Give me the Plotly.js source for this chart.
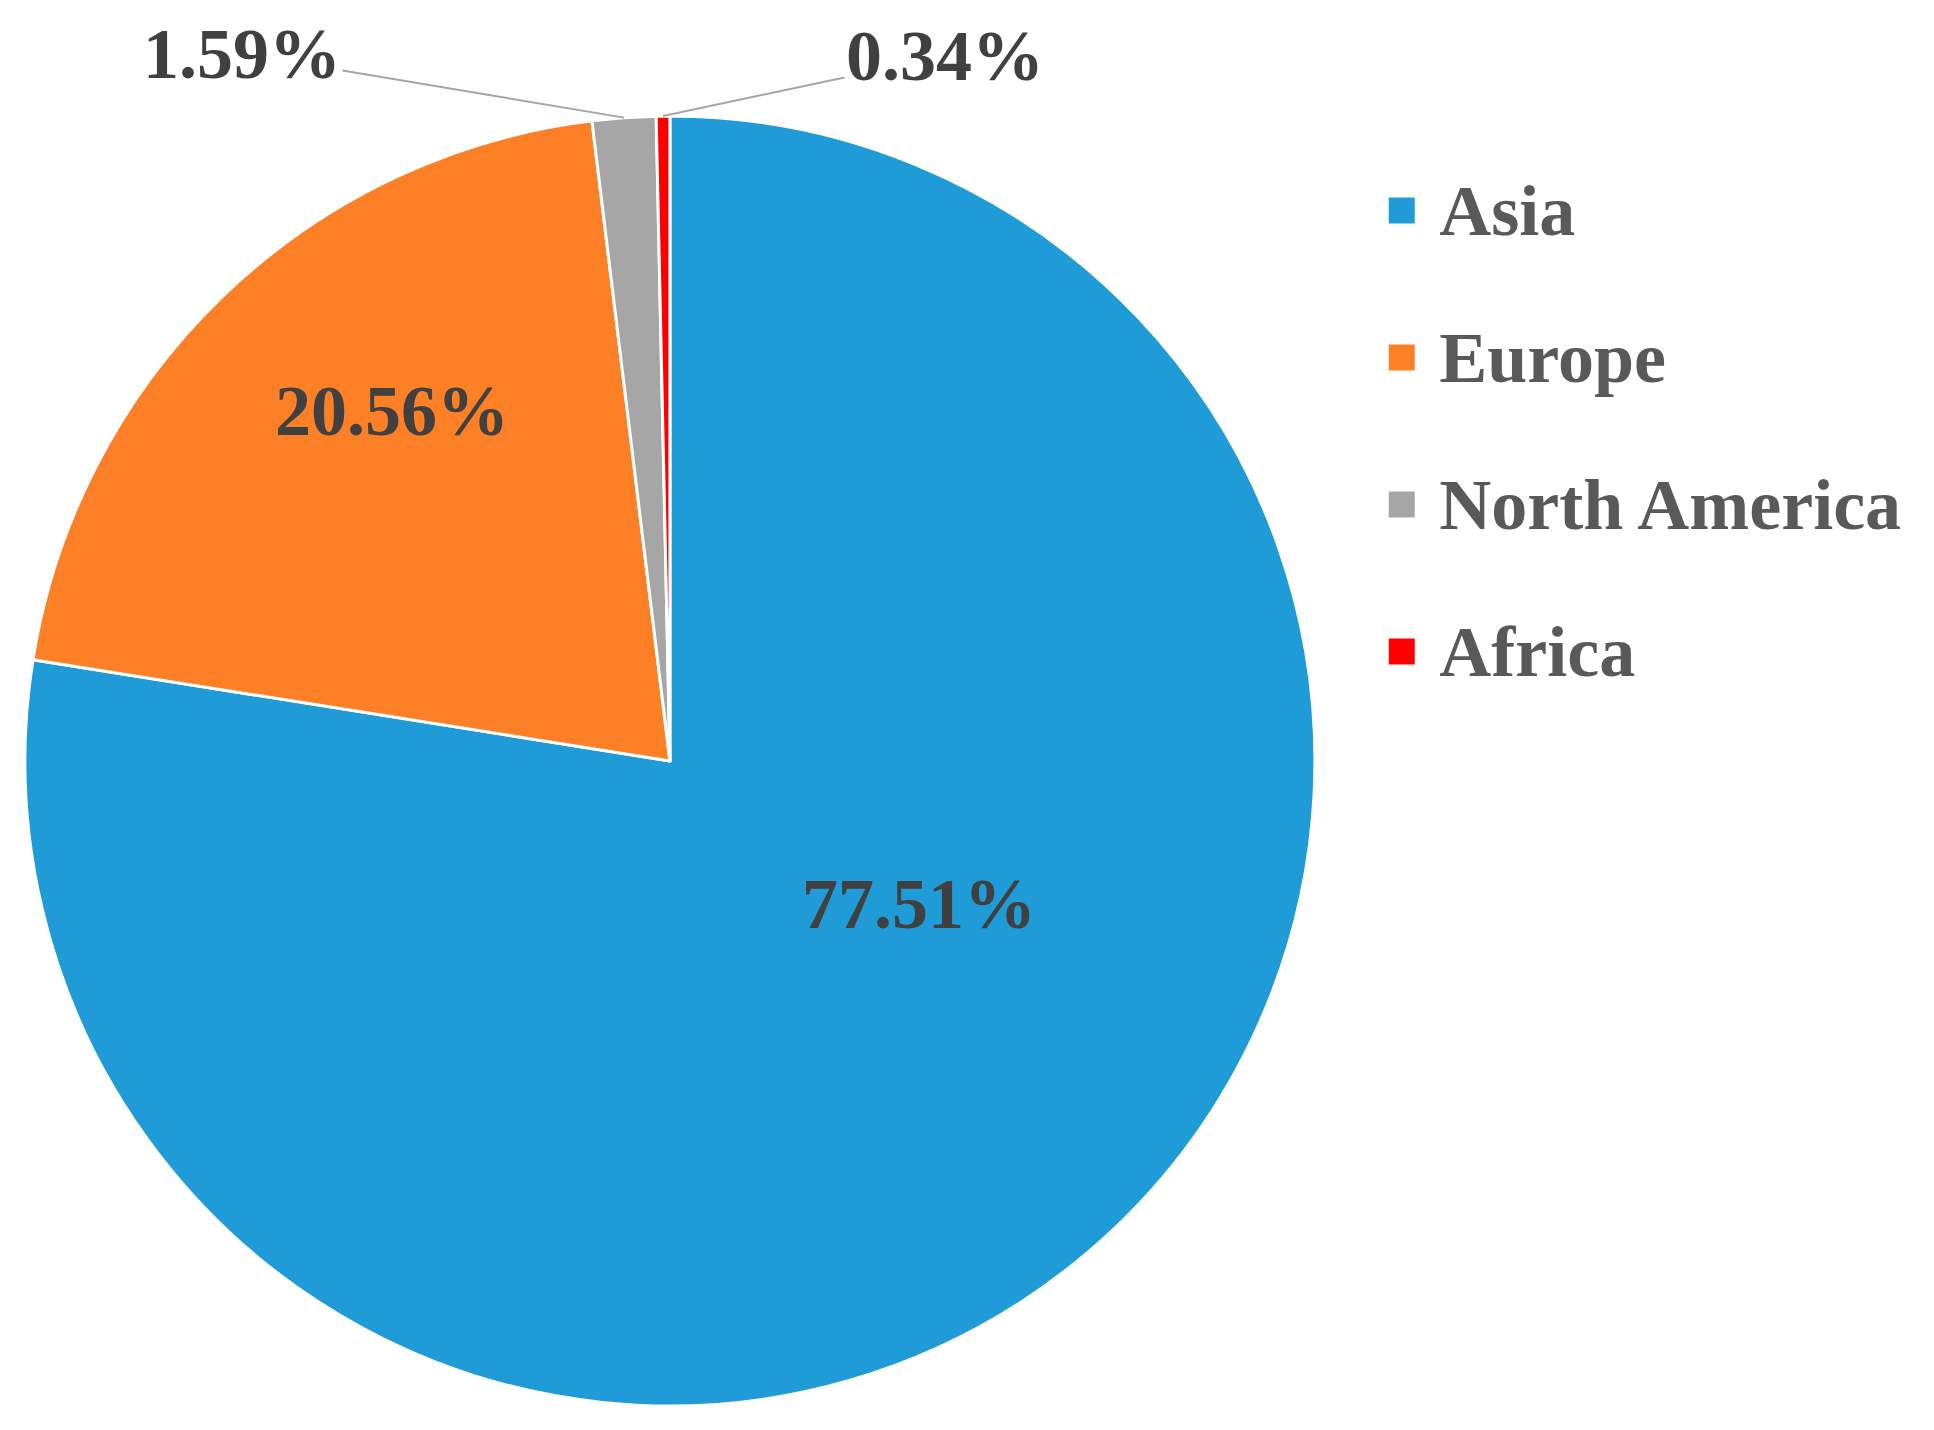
<!DOCTYPE html>
<html>
<head>
<meta charset="utf-8">
<script src="https://cdn.plot.ly/plotly-3.0.1.min.js"></script>
<style>html,body{margin:0;padding:0;background:#fff;}#chart{width:1934px;height:1430px;}</style>
</head>
<body>
<div id="chart"></div>
<script>
const regions = ['Asia', 'Europe', 'North America', 'Africa'];
const shares = [77.51, 20.56, 1.59, 0.34];
const sliceColors = ['#1f9cd8', '#fd7f26', '#a6a6a6', '#ff0000'];
const insideLabel = [true, true, false, false];

const W = 1934, H = 1430;
const dom = {x: [0.0129, 0.6799], y: [0.0168, 0.9189]};
const serif = '"Liberation Serif", "Times New Roman", serif';
const labelFont = {family: serif, size: 72, color: '#404040', weight: 'bold'};
const legendRowStep = 147;

const trace = {
  type: 'pie',
  labels: regions,
  values: shares,
  sort: false,
  direction: 'clockwise',
  rotation: 0,
  domain: dom,
  marker: {colors: sliceColors, line: {color: '#ffffff', width: 3}},
  textinfo: 'none',
  hoverinfo: 'label+percent'
};

// label placement (pixel offsets): inside labels from the pie centre, outside labels from slice rim
const labelOffsets = [[249, -143], [-278, 350], [-382, -64], [282, -60]];

const cx = (dom.x[0] + dom.x[1]) / 2, cy = (dom.y[0] + dom.y[1]) / 2;
const rPx = Math.min((dom.x[1] - dom.x[0]) * W, (dom.y[1] - dom.y[0]) * H) / 2;
const total = shares.reduce((a, b) => a + b, 0);
const annotations = [];
let cum = 0;
shares.forEach((v, i) => {
  const mid = (cum + v / 2) / total * 2 * Math.PI;
  cum += v;
  const txt = v.toFixed(2) + '%';
  if (insideLabel[i]) {
    annotations.push({
      xref: 'paper', yref: 'paper', x: cx, y: cy,
      xshift: labelOffsets[i][0], yshift: labelOffsets[i][1],
      text: txt, showarrow: false, font: labelFont
    });
  } else {
    annotations.push({
      xref: 'paper', yref: 'paper',
      x: cx + rPx * Math.sin(mid) / W,
      y: cy + rPx * Math.cos(mid) / H,
      ax: labelOffsets[i][0], ay: labelOffsets[i][1],
      text: txt,
      showarrow: true, arrowhead: 0, arrowwidth: 2, arrowcolor: '#a6a6a6',
      font: labelFont
    });
  }
});

const layout = {
  width: W, height: H,
  margin: {l: 0, r: 0, t: 0, b: 0},
  paper_bgcolor: '#ffffff',
  showlegend: true,
  legend: {
    x: 0.7235, y: 0.8925, xanchor: 'left', yanchor: 'top',
    font: {family: serif, size: 72, color: '#595959', weight: 'bold'},
    bgcolor: 'rgba(0,0,0,0)'
  },
  annotations: annotations
};

Plotly.newPlot('chart', [trace], layout, {staticPlot: true}).then(function (gd) {
  // let the enlarged swatches and spread-out rows show outside the legend's clip box
  gd.querySelectorAll('.legend .scrollbox').forEach(function (s) { s.removeAttribute('clip-path'); });
  gd.querySelectorAll('.legend').forEach(function (s) { s.removeAttribute('clip-path'); });
  // enlarge the legend swatches to match the reference
  gd.querySelectorAll('.legend .legendpoints path').forEach(function (p) {
    p.setAttribute('d', 'M-3,18H-32V-11H-3Z');
  });
  // spread legend rows to the reference spacing
  const items = gd.querySelectorAll('.legend .traces');
  let y0 = null;
  items.forEach(function (g, i) {
    const m = /translate\(\s*([-\d.e]+)[ ,]+([-\d.e]+)\s*\)/.exec(g.getAttribute('transform') || '');
    if (!m) return;
    const x = parseFloat(m[1]), y = parseFloat(m[2]);
    if (y0 === null) y0 = y;
    g.setAttribute('transform', 'translate(' + x + ',' + (y0 + i * legendRowStep) + ')');
  });
});
</script>
</body>
</html>
